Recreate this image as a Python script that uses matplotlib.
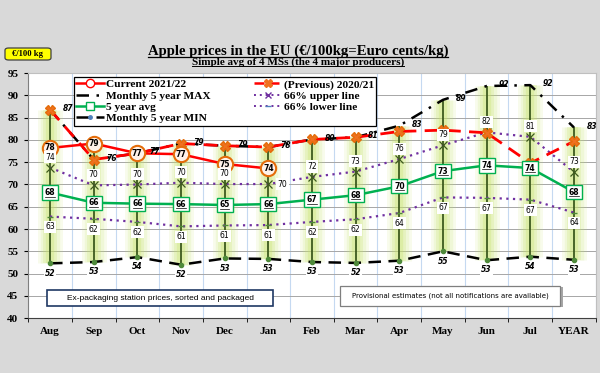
import numpy as np
import matplotlib
matplotlib.use("Agg")
import matplotlib.pyplot as plt
from matplotlib.lines import Line2D
from matplotlib.patches import Rectangle, FancyBboxPatch

months = ["Aug", "Sep", "Oct", "Nov", "Dec", "Jan", "Feb", "Mar", "Apr", "May", "Jun", "Jul", "YEAR"]
current = [78.2, 79.2, 77.0, 76.8, 74.6, 73.6]
previous = [86.8, 75.6, 77.0, 79.2, 78.7, 78.4, 80.1, 80.6, 81.9, 82.2, 81.6, 74.8, 79.7]
max5 = [86.8, 75.6, 77.0, 79.2, 78.7, 78.4, 80.1, 80.6, 83.2, 89.0, 92.1, 92.3, 82.8]
upper66 = [73.8, 69.8, 70.0, 70.4, 70.1, 70.1, 71.7, 72.9, 75.7, 78.8, 81.7, 80.7, 72.8]
avg5 = [68.2, 65.9, 65.7, 65.6, 65.4, 65.6, 66.6, 67.6, 69.6, 73.0, 74.3, 73.7, 68.3]
lower66 = [62.8, 62.3, 61.6, 60.6, 60.8, 60.9, 61.6, 62.2, 63.6, 67.1, 67.0, 66.6, 63.7]
min5 = [52.3, 52.6, 53.7, 52.0, 53.4, 53.3, 52.6, 52.4, 52.9, 55.0, 53.0, 53.8, 53.1]

SERIF = "Liberation Serif"
BG = "#d9d9d9"

fig = plt.figure(figsize=(6.0, 3.73), dpi=100, facecolor=BG)
ax = fig.add_axes([0.047, 0.147, 0.946, 0.657])
ax.set_facecolor("white")

x = np.arange(len(months))
xc = np.arange(len(current))

# high-low lines with a soft green glow
allser = np.array([previous, max5, upper66, avg5, lower66, min5])
hi = allser.max(axis=0)
hi[:len(current)] = np.maximum(hi[:len(current)], current)
lo = allser.min(axis=0)
for w, a in [(18, 0.12), (14, 0.16), (10, 0.22), (6, 0.3)]:
    ax.vlines(x, lo, hi, colors="#c6e36a", linewidth=w, alpha=a, zorder=1)
ax.vlines(x, lo, hi, colors="#3d5a1e", linewidth=1.3, zorder=2)

# series
ax.plot(x, max5, color="black", lw=1.8, dashes=(5, 3, 1, 3), zorder=3)
ax.plot(x, min5, color="black", lw=1.8, dashes=(5, 3), zorder=3,
        marker="o", ms=3, mfc="#4f8a3a", mec="#4f8a3a")
ax.plot(x, upper66, color="#7030a0", lw=1.6, ls=(0, (1, 2)), zorder=3,
        marker="x", ms=6, mec="#3d5a1e", mew=0.9)
ax.plot(x, lower66, color="#7030a0", lw=1.6, ls=(0, (1, 2)), zorder=3,
        marker="_", ms=5, mec="#4f8a3a", mew=1)
ax.plot(x, avg5, color="#00b050", lw=1.8, zorder=3)
ax.plot(x, previous, color="#ff0000", lw=2, dashes=(5, 3), zorder=4,
        marker="X", ms=7, mfc="#f07020", mec="#e46c0a")
ax.plot(xc, current, color="#ff0000", lw=1.8, zorder=5,
        marker="o", ms=11, mfc="#fff2ea", mec="#e46c0a", mew=1.5)

# offsets (points) for the 66% upper labels; Jan sits right of its marker
up_off = [(0, 7.5)] * len(months)
up_off[5] = (10, 0)

lab_sans = dict(fontsize=5.5, family="DejaVu Sans", ha="center", va="center")
for i in range(len(months)):
    ax.annotate(f"{round(max5[i])}", (x[i], max5[i]), xytext=(9, 1), textcoords="offset points",
                fontsize=5.5, fontweight="bold", style="italic", ha="left", va="center", zorder=6)
    ax.annotate(f"{round(min5[i])}", (x[i], min5[i]), xytext=(0, -7), textcoords="offset points",
                fontsize=5.5, fontweight="bold", style="italic", ha="center", va="center", zorder=6,
                bbox=dict(boxstyle="square,pad=0.15", fc="white", ec="none"))
    ax.annotate(f"{round(upper66[i])}", (x[i], upper66[i]), xytext=up_off[i], textcoords="offset points",
                zorder=6, bbox=dict(boxstyle="square,pad=0.2", fc="white", ec="none"), **lab_sans)
    ax.annotate(f"{round(lower66[i])}", (x[i], lower66[i]), xytext=(0, -7.5), textcoords="offset points",
                zorder=6, bbox=dict(boxstyle="square,pad=0.2", fc="white", ec="none"), **lab_sans)
avg_texts = []
for i in range(len(months)):
    t = ax.text(x[i], avg5[i], f"{round(avg5[i])}", fontsize=5.5, fontweight="bold",
                family="DejaVu Sans", ha="center", va="center", zorder=7,
                bbox=dict(boxstyle="square,pad=0.35", fc="white", ec="#00b050", lw=1))
    avg_texts.append(t)
for i in range(len(current)):
    ax.text(xc[i], current[i], f"{round(current[i])}", fontsize=5.5, fontweight="bold",
            family="DejaVu Sans", ha="center", va="center", zorder=8)

# axes styling
ax.set_xlim(-0.5, len(months) - 0.5)
ax.set_ylim(40, 95)
ax.set_yticks(np.arange(40, 96, 5))
ax.set_xticks(x)
ax.set_xticklabels(months)
ax.set_xticks(np.arange(-0.5, len(months), 1), minor=True)
ax.tick_params(axis="x", which="major", length=0, pad=6)
ax.tick_params(axis="x", which="minor", length=3, direction="out")
ax.tick_params(axis="y", length=3, direction="out", pad=4)
for lab in ax.get_xticklabels() + ax.get_yticklabels():
    lab.set_family(SERIF)
    lab.set_fontweight("bold")
    lab.set_fontsize(8)
ax.grid(axis="y", which="major", color="#a6a6a6", lw=0.7, zorder=0)
ax.grid(axis="x", which="minor", color="#c5d9f1", lw=0.8, zorder=0)
ax.set_axisbelow(True)
for s in ["top", "right"]:
    ax.spines[s].set_color("#bfbfbf")
ax.spines["left"].set_color("#7f7f7f")
ax.spines["bottom"].set_color("#404040")

# legend
handles = [
    Line2D([], [], color="#ff0000", lw=1.8, marker="o", ms=6, mfc="white", mec="#ff0000"),
    Line2D([], [], color="black", lw=1.8, dashes=(5, 3, 1, 3)),
    Line2D([], [], color="#00b050", lw=1.8, marker="s", ms=6, mfc="white", mec="#00b050"),
    Line2D([], [], color="black", lw=1.8, dashes=(5, 3), marker="o", ms=2.5, mfc="#4f81bd", mec="#4f81bd"),
    Line2D([], [], color="#ff0000", lw=1.8, dashes=(4, 2), marker="X", ms=6, mfc="#f07020", mec="#f07020"),
    Line2D([], [], color="#7030a0", lw=1.4, ls=(0, (1, 2)), marker="x", ms=5, mec="#7030a0"),
    Line2D([], [], color="#7030a0", lw=1.4, ls=(0, (1, 2)), marker="_", ms=5, mec="#4f81bd"),
]
labels = ["Current 2021/22", "Monthly 5 year MAX", "5 year avg", "Monthly 5 year MIN",
          "(Previous) 2020/21", "66% upper line", "66% lower line"]
leg = ax.legend(handles, labels, ncol=2, loc="upper left", bbox_to_anchor=(0.081, 0.984),
                borderaxespad=0, prop={"family": SERIF, "weight": "bold", "size": 8.2},
                frameon=True, fancybox=False, edgecolor="black", framealpha=1, borderpad=0.2,
                labelspacing=0.12, handlelength=2.4, handletextpad=0.2, columnspacing=3.8)
leg.get_frame().set_linewidth(0.9)
leg.set_zorder(10)

# note boxes
ax.add_patch(Rectangle((-0.07, 42.7), 5.17, 3.6, fc="white", ec="#1f3864", lw=1.2, zorder=9))
ax.text(2.52, 44.5, "Ex-packaging station prices, sorted and packaged", fontsize=6,
        family="Liberation Sans", ha="center", va="center", zorder=10)
ax.add_patch(Rectangle((6.71, 42.55), 5.04, 4.5, fc="#a6a6a6", ec="none", zorder=8))
ax.add_patch(Rectangle((6.64, 42.7), 5.04, 4.5, fc="white", ec="#7f7f7f", lw=0.9, zorder=9))
ax.text(9.16, 45.0, "Provisional estimates (not all notifications are available)", fontsize=5.0,
        family="DejaVu Sans", ha="center", va="center", zorder=10)

# titles
title = fig.text(0.497, 0.852, "Apple prices in the EU (\u20ac/100kg=Euro cents/kg)", family=SERIF,
                 fontweight="bold", fontsize=10.6, ha="center", va="baseline")
sub = fig.text(0.497, 0.826, "Simple avg of 4 MSs (the 4 major producers)", family=SERIF,
               fontweight="bold", fontsize=8, ha="center", va="baseline")
fig.add_artist(FancyBboxPatch((5 / 600, 1 - 60 / 373), 46 / 600, 12 / 373,
                              boxstyle="round,pad=0,rounding_size=0.006", transform=fig.transFigure,
                              fc="#ffff00", ec="#404040", lw=0.9))
fig.text(28 / 600, 1 - 53.5 / 373, "\u20ac/100 kg", family=SERIF, fontweight="bold", fontsize=6.2,
         ha="center", va="center")

# underline helper
fig.canvas.draw()
renderer = fig.canvas.get_renderer()
inv = fig.transFigure.inverted()
def underline(t, off=1.5, lw=0.9):
    bb = t.get_window_extent(renderer)
    (x0, y0), (x1, _) = inv.transform([(bb.x0, bb.y0 + off), (bb.x1, bb.y0 + off)])
    fig.add_artist(Line2D([x0, x1], [y0, y0], color="black", lw=lw, transform=fig.transFigure))
underline(title, off=1.5)
underline(sub, off=1.0, lw=0.7)
for t in avg_texts:
    bb = t.get_window_extent(renderer)
    (x0, y0), (x1, _) = inv.transform([(bb.x0 + 0.5, bb.y0 + 0.5), (bb.x1 - 0.5, bb.y0)])
    fig.add_artist(Line2D([x0, x1], [y0, y0], color="black", lw=0.5, transform=fig.transFigure, zorder=20))

fig.savefig("out.png", dpi=100, facecolor=BG)
